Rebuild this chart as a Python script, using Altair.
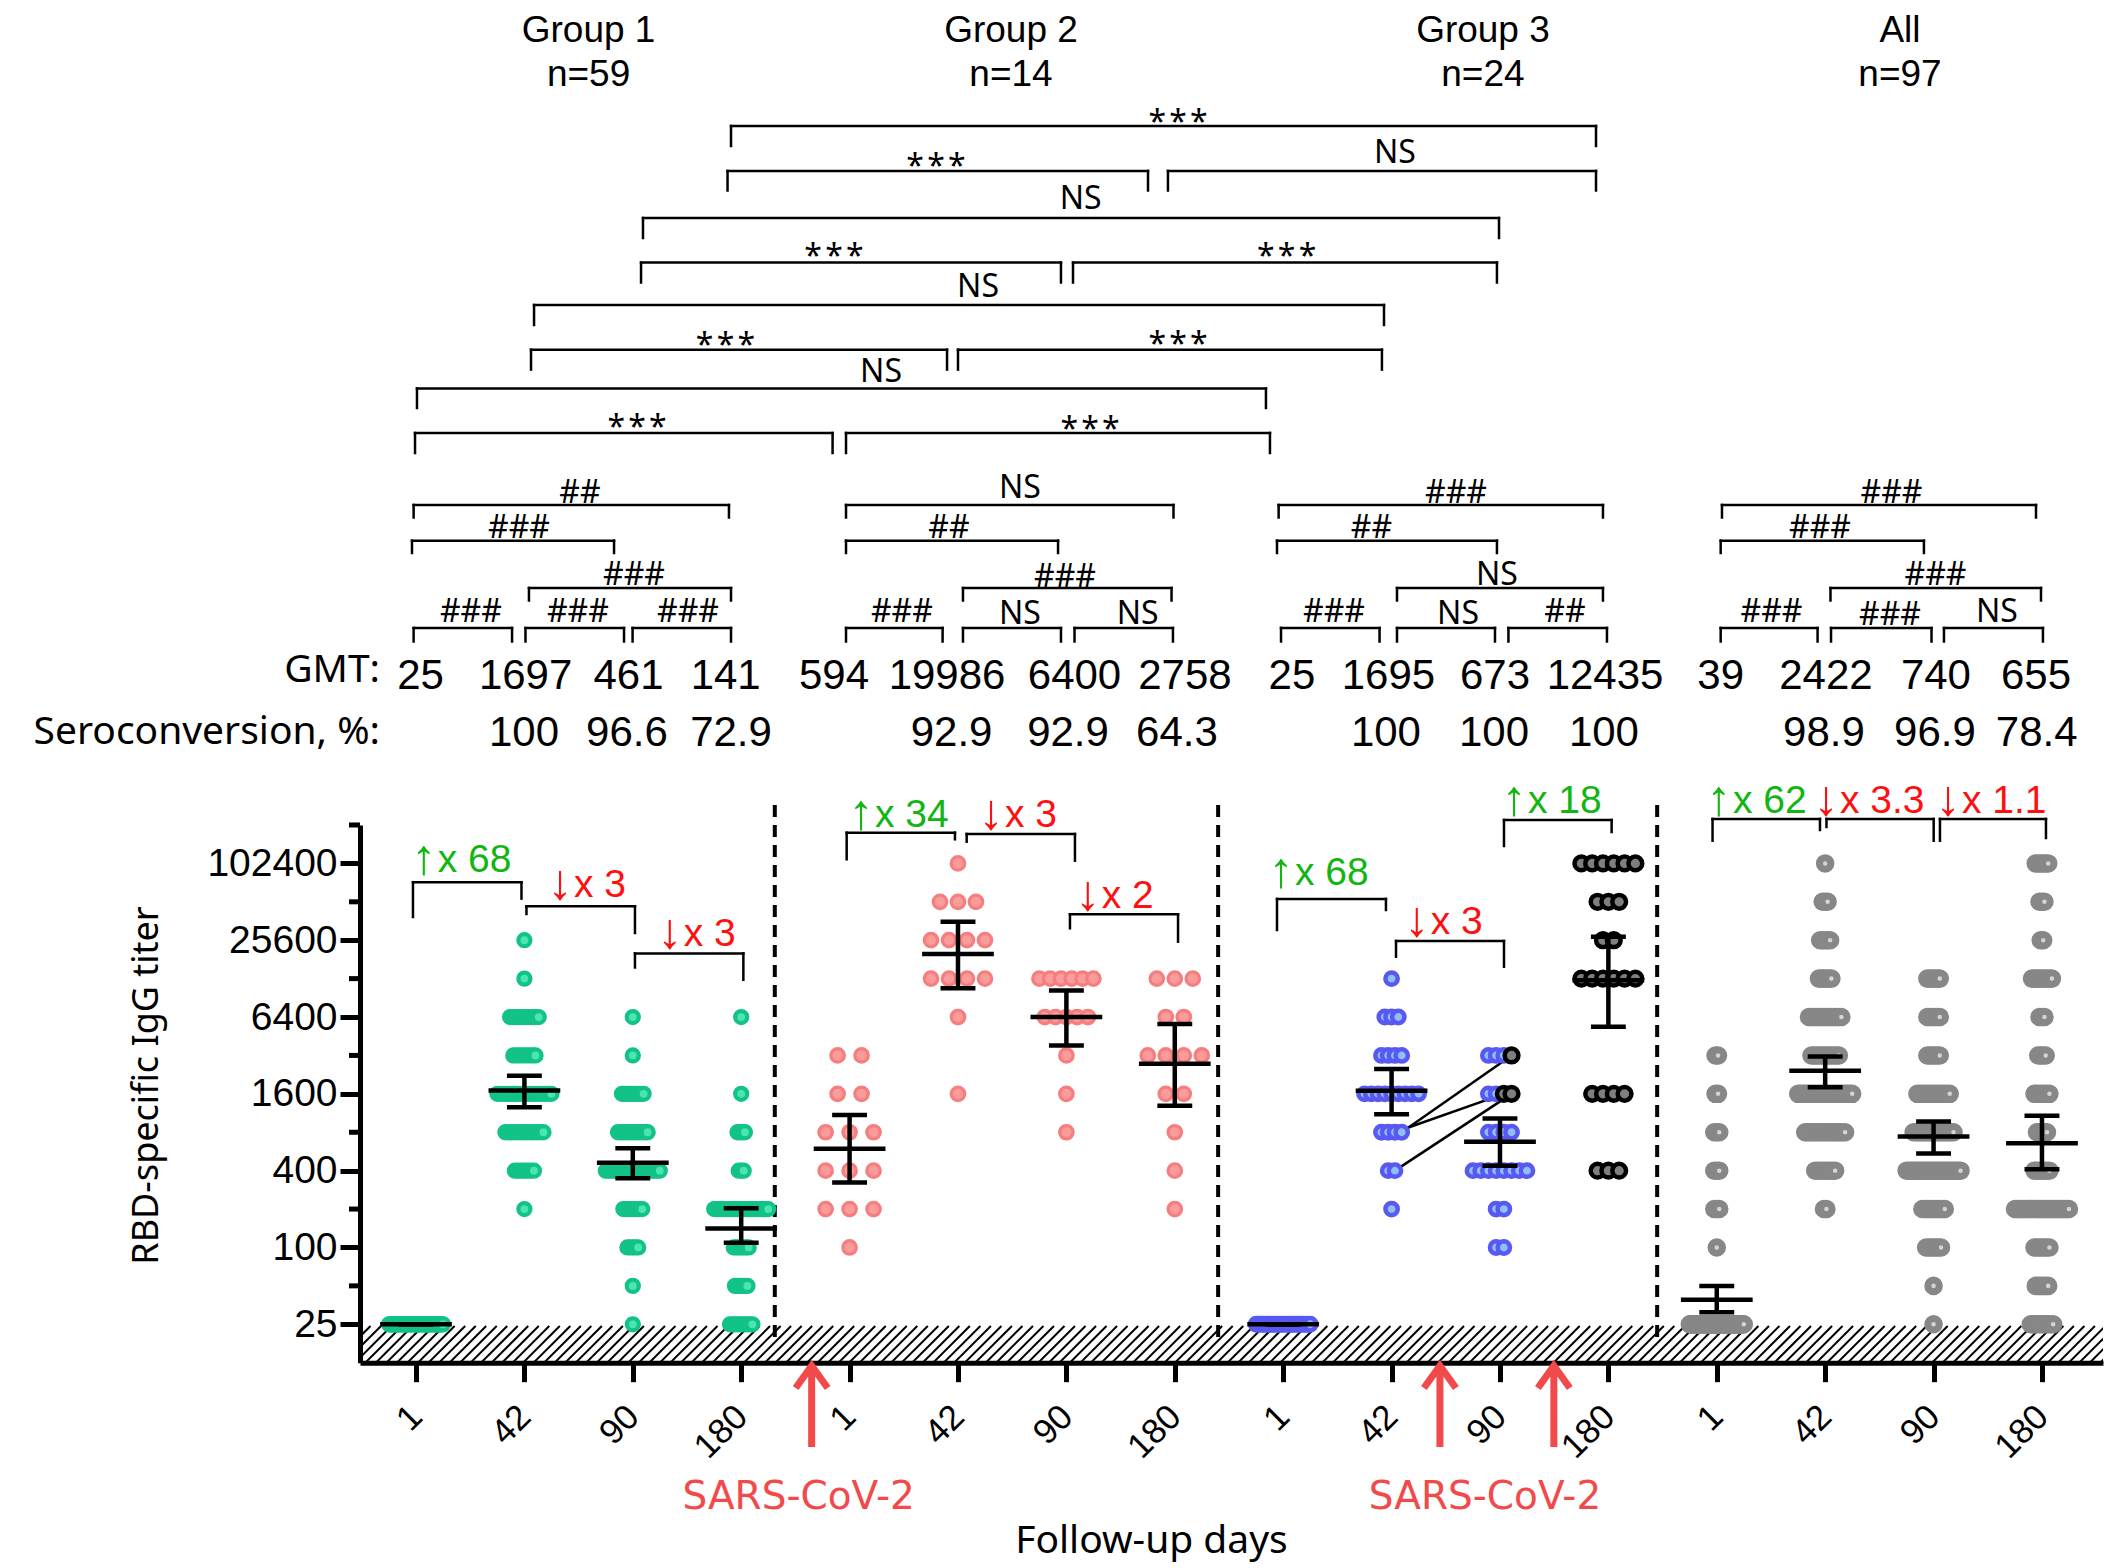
import altair as alt
import numpy as np
import pandas as pd

# ---------------- values ----------------
TITERS = [25, 50, 100, 200, 400, 800, 1600, 3200, 6400, 12800, 25600, 51200, 102400]
MINOR_TITERS = [50, 200, 800, 3200, 12800, 51200, 204800]
MAJOR_TITERS = [25, 100, 400, 1600, 6400, 25600, 102400]
DAYS = ["1", "42", "90", "180"]
GROUP_NAMES = ["Group 1", "Group 2", "Group 3", "All"]
GROUP_SIZES = ["n=59", "n=14", "n=24", "n=97"]

# subjects per titer (one entry per TITERS value), one row per follow-up day
G1_COUNTS = [
    [59, 0, 0, 0, 0, 0, 0, 0, 0, 0, 0, 0, 0],
    [0, 0, 0, 1, 7, 13, 18, 8, 10, 1, 1, 0, 0],
    [1, 1, 5, 8, 21, 12, 9, 1, 1, 0, 0, 0, 0],
    [10, 6, 7, 27, 3, 4, 1, 0, 1, 0, 0, 0, 0],
]
G2_COUNTS = [
    [0, 0, 1, 3, 3, 3, 2, 2, 0, 0, 0, 0, 0],
    [0, 0, 0, 0, 0, 0, 1, 0, 1, 4, 4, 3, 1],
    [0, 0, 0, 0, 0, 1, 1, 1, 5, 6, 0, 0, 0],
    [0, 0, 0, 1, 1, 1, 2, 4, 2, 3, 0, 0, 0],
]
G3_COUNTS = [
    [24, 0, 0, 0, 0, 0, 0, 0, 0, 0, 0, 0, 0],
    [0, 0, 0, 1, 2, 4, 9, 4, 3, 1, 0, 0, 0],
    [0, 0, 2, 2, 8, 4, 4, 4, 0, 0, 0, 0, 0],
    [0, 0, 0, 0, 3, 0, 4, 0, 0, 6, 2, 3, 6],
]
G3_DAY90_INFECTED = {1600: 2, 3200: 1}               # black dots at day 90
G3_PAIRS = [(800, 3200), (800, 1600), (400, 1600)]   # day 42 -> day 90 titers

GMT = [25, 1697, 461, 141, 594, 19986, 6400, 2758, 25, 1695, 673, 12435, 39, 2422, 740, 655]
CI_LOW = [25, 1255, 348, 109, 323, 10763, 3832, 1291, 25, 1108, 438, 5382, 31, 1800, 546, 411]
CI_HIGH = [25, 2216, 598, 203, 1093, 35712, 10325, 5651, 25, 2510, 1027, 27240, 50, 3135, 971, 1079]
SEROCONVERSION = ["", "100", "96.6", "72.9", "", "92.9", "92.9", "64.3",
                  "", "100", "100", "100", "", "98.9", "96.9", "78.4"]

SIG_BETWEEN = ["***", "***", "NS", "NS", "***", "***", "NS", "***", "***", "NS", "***", "***"]
SIG_WITHIN = ["##", "###", "###", "###", "###", "###",
              "NS", "##", "###", "###", "NS", "NS",
              "###", "##", "NS", "###", "NS", "##",
              "###", "###", "###", "###", "###", "NS"]
FOLD_CHANGES = ["↑x 68", "↓x 3", "↓x 3", "↑x 34", "↓x 3", "↓x 2",
                "↑x 68", "↓x 3", "↑x 18", "↑x 62", "↓x 3.3", "↓x 1.1"]
INFECTION_LABEL = "SARS-CoV-2"

# ---------------- layout (positions & styles) ----------------
XMIN, XMAX = -0.5166, 15.563
PLOT_W, PLOT_H = 1743, 537.7
PY_BOTTOM = 1362.7
YMIN, YMAX = 12.5, 204800
LEVEL_PX = PLOT_H / np.log2(YMAX / YMIN)

def ty(py):
    """page row of the reference -> value on the titer axis"""
    return float(YMIN * 2 ** ((PY_BOTTOM - py) / LEVEL_PX))

FONT_TEXT = "Noto Sans"
FONT_NUM = "Liberation Sans"
FONT_RED = "DejaVu Sans"
RED = "#f24a4a"
GREEN_TXT, RED_TXT = "#12b512", "#ff1010"

SPAN_MAX, STEP_MAX, STEP_MIN = 0.498, 0.221, 0.023

STYLE = {  # stroke, fill, size, strokeWidth
    "g1": ("#12c286", "#4be6ae", 145, 4.25),
    "g2": ("#f77e7e", "#fb9c9c", 180, 3.3),
    "g3": ("#5858f2", "#90bff8", 152, 4.5),
    "g3x": ("#000000", "#7f7f7f", 189, 4.5),
    "all": ("#878787", "#d4d4d4", 133, 7),
}

BETWEEN_POS = [  # k1, k2, y line, y tick end, k label, label baseline
    (2.906, 10.886, 126.0, 146.0, 7.030, 133.0),
    (2.874, 6.753, 171.0, 190.5, 4.797, 177.4),
    (6.937, 10.886, 171.0, 190.5, 9.031, 163.0),
    (2.094, 9.991, 218.0, 238.0, 6.132, 209.4),
    (2.076, 5.950, 262.6, 282.5, 3.856, 267.0),
    (6.061, 9.972, 262.6, 282.5, 8.032, 267.0),
    (1.089, 8.930, 305.0, 325.0, 5.185, 297.4),
    (1.061, 4.899, 349.7, 369.6, 2.855, 356.4),
    (5.000, 8.911, 349.7, 369.6, 7.030, 355.0),
    (0.009, 7.841, 388.5, 408.0, 4.290, 382.0),
    (-0.009, 3.843, 433.0, 453.0, 2.039, 438.4),
    (3.967, 7.878, 433.0, 453.0, 6.218, 440.4),
]
ROW_Y = {"A": (505.0, 517.5), "B": (540.7, 553.0), "C": (588.0, 600.5), "D": (628.0, 641.5)}
WITHIN_POS = [  # k1, k2, row, k label, label baseline
    (-0.022, 2.887, "A", 1.513, 503.4), (-0.037, 1.827, "B", 0.950, 538.4),
    (1.042, 2.906, "C", 2.011, 585.0), (-0.022, 0.886, "D", 0.507, 622.4),
    (1.010, 1.919, "D", 1.494, 622.4), (1.998, 2.906, "D", 2.509, 622.4),
    (3.967, 6.988, "A", 5.572, 498.4), (3.967, 5.923, "B", 4.917, 538.4),
    (5.046, 6.970, "C", 5.987, 587.4), (3.967, 4.858, "D", 4.483, 622.4),
    (5.046, 5.950, "D", 5.572, 624.0), (6.075, 6.983, "D", 6.657, 624.0),
    (7.958, 10.950, "A", 9.594, 503.4), (7.943, 9.972, "B", 8.815, 538.4),
    (9.050, 10.950, "C", 9.972, 585.0), (7.980, 8.889, "D", 8.469, 622.4),
    (9.050, 9.954, "D", 9.613, 624.0), (10.078, 10.987, "D", 10.600, 622.4),
    (12.048, 14.945, "A", 13.612, 503.4), (12.036, 13.911, "B", 12.952, 538.4),
    (13.049, 14.991, "C", 14.018, 585.0), (12.036, 12.930, "D", 12.505, 622.4),
    (13.054, 13.981, "D", 13.598, 625.4), (14.096, 15.009, "D", 14.585, 622.0),
]
FOLD_POS = [  # k1, k2, y line, left end, right end, k of text start, baseline
    (-0.028, 0.973, 882.2, 917.0, 898.6, 0.200, 872.0),
    (1.019, 2.020, 906.3, 914.0, 933.0, 1.458, 897.0),
    (2.020, 3.020, 953.4, 967.5, 979.8, 2.470, 946.5),
    (3.973, 4.972, 832.7, 859.3, 839.3, 4.234, 826.7),
    (5.080, 6.079, 834.0, 841.7, 860.7, 5.434, 826.7),
    (6.033, 7.030, 914.3, 928.3, 941.7, 6.326, 908.3),
    (7.943, 8.948, 899.0, 930.0, 910.0, 8.109, 885.0),
    (9.041, 10.037, 941.0, 956.7, 966.7, 9.361, 934.0),
    (10.037, 11.030, 820.0, 846.0, 832.0, 10.258, 813.0),
    (11.961, 12.952, 819.0, 840.7, 830.0, 12.149, 813.0),
    (13.012, 14.001, 819.0, 827.0, 840.7, 13.137, 813.0),
    (14.059, 15.037, 819.0, 840.7, 838.0, 14.262, 813.0),
]
GMT_TEXT_K = [0.042, 1.011, 1.960, 2.857, 3.856, 4.899, 6.075, 7.094,
              8.081, 8.971, 9.954, 10.969, 12.036, 13.007, 14.022, 14.945]
SERO_TEXT_K = [0, 0.996, 1.946, 2.906, 0, 4.941, 6.015, 7.020,
               0, 8.948, 9.945, 10.959, 0, 12.989, 14.013, 14.951]
GROUP_TITLE_K = [1.592, 5.489, 9.843, 13.690]
ROW_LABEL_K = -0.332
DIVIDER_K = [3.31, 7.40, 11.45]
INFECTION_K = [3.650, 9.446, 10.497]
INFECTION_TEXT_K = [3.530, 9.862]
ARROW = "M-0.39,-0.44L0,-0.98L0.39,-0.44M0,-0.98L0,1"

# ---------------- build tables ----------------
def layout_column(k, counts, series, special=None):
    maxrow = max(counts)
    step = STEP_MAX if maxrow < 2 else max(STEP_MIN, min(STEP_MAX, SPAN_MAX / (maxrow - 1)))
    out = []
    for t, n in zip(TITERS, counts):
        if n == 0:
            continue
        span = min(step * (n - 1), SPAN_MAX)
        ns = (special or {}).get(t, 0)
        for i in range(n):
            off = 0.0 if n == 1 else -span / 2 + i * span / (n - 1)
            s = "g3x" if i >= n - ns else series
            out.append({"k": k + off, "t": t, "series": s, "i": i, "n": n, "col": k, "pid": ""})
    return out

rows = []
for g, (counts, ser) in enumerate([(G1_COUNTS, "g1"), (G2_COUNTS, "g2"), (G3_COUNTS, "g3")]):
    for d in range(4):
        sname = "g3x" if (g == 2 and d == 3) else ser
        special = G3_DAY90_INFECTED if (g == 2 and d == 2) else None
        rows += layout_column(g * 4 + d, counts[d], sname, special)
ALL_COUNTS = [[a + b + c for a, b, c in zip(G1_COUNTS[d], G2_COUNTS[d], G3_COUNTS[d])] for d in range(4)]
for d in range(4):
    rows += layout_column(12 + d, ALL_COUNTS[d], "all")

# link reinfected individuals (group 3, day 42 -> day 90)
used42, used90 = {}, {}
for p, (t42, t90) in enumerate(G3_PAIRS):
    u = used42.get(t42, 0); used42[t42] = u + 1
    cands = sorted([r for r in rows if r["col"] == 9 and r["t"] == t42], key=lambda r: -r["i"])
    cands[u]["pid"] = f"p{p}"
    u = used90.get(t90, 0); used90[t90] = u + 1
    cands = sorted([r for r in rows if r["col"] == 10 and r["t"] == t90 and r["series"] == "g3x"],
                   key=lambda r: r["i"])
    cands[u]["pid"] = f"p{p}"
pts_df = pd.DataFrame(rows)

stats_df = pd.DataFrame({"k": list(range(16)), "gmt": GMT, "lo": CI_LOW, "hi": CI_HIGH})

segs = []
def bracket(k1, k2, y, yl, yr):
    segs.extend([
        {"x": k1, "x2": k2, "y": ty(y), "y2": ty(y)},
        {"x": k1, "x2": k1, "y": ty(y), "y2": ty(yl)},
        {"x": k2, "x2": k2, "y": ty(y), "y2": ty(yr)},
    ])

sig_rows = []
for lab, (k1, k2, y, ye, kl, yl) in zip(SIG_BETWEEN, BETWEEN_POS):
    bracket(k1, k2, y, ye, ye)
    sig_rows.append({"k": kl, "y": ty(yl), "text": lab.replace("***", "*\u200a*\u200a*")})
for lab, (k1, k2, r, kl, yl) in zip(SIG_WITHIN, WITHIN_POS):
    y, ye = ROW_Y[r]
    bracket(k1, k2, y, ye, ye)
    sig_rows.append({"k": kl, "y": ty(yl), "text": lab})
fold_rows, fold_arrow_rows = [], []
for lab, (k1, k2, y, yl, yr, ks, bl) in zip(FOLD_CHANGES, FOLD_POS):
    bracket(k1, k2, y, yl, yr)
    d = "up" if lab.startswith("↑") else "down"
    fold_rows.append({"k": ks, "y": ty(bl), "text": lab[1:], "dir": d})
    fold_arrow_rows.append({"k": ks - 0.012, "y": ty(bl + 2), "text": lab[0], "dir": d})
seg_df = pd.DataFrame(segs)
sig_df = pd.DataFrame(sig_rows)
fold_df = pd.DataFrame(fold_rows)
fold_arrow_df = pd.DataFrame(fold_arrow_rows)

title_df = pd.DataFrame(
    [{"k": k, "y": ty(42.0), "text": n} for k, n in zip(GROUP_TITLE_K, GROUP_NAMES)]
    + [{"k": k, "y": ty(86.0), "text": n} for k, n in zip(GROUP_TITLE_K, GROUP_SIZES)]
)
num_df = pd.DataFrame(
    [{"k": kk, "y": ty(689.0), "text": str(v)} for kk, v in zip(GMT_TEXT_K, GMT)]
    + [{"k": kk, "y": ty(746.0), "text": v} for kk, v in zip(SERO_TEXT_K, SEROCONVERSION) if v]
)
rowlab_df = pd.DataFrame([{"k": ROW_LABEL_K, "y": ty(682.0), "text": "GMT:"},
                          {"k": ROW_LABEL_K, "y": ty(744.0), "text": "Seroconversion, %:"}])
div_df = pd.DataFrame({"k": DIVIDER_K, "y": ty(805.0), "y2": ty(1345.0)})
arrow_df = pd.DataFrame({"k": INFECTION_K, "y": ty(1406.0)})
sars_df = pd.DataFrame({"k": INFECTION_TEXT_K, "y": ty(1509.0), "text": INFECTION_LABEL})

hatch_dx = 36.7 / 108.4
x0 = np.arange(XMIN - hatch_dx, XMAX + 0.01, 0.097)
hatch_df = pd.DataFrame({"x": x0, "x2": x0 + hatch_dx, "y": YMIN, "y2": ty(1326.0)})

# ---------------- scales, axes & helpers ----------------
xs = alt.Scale(domain=[XMIN, XMAX], nice=False, zero=False)
ys = alt.Scale(type="log", base=2, domain=[YMIN, YMAX], nice=False)

x_axis = alt.Axis(
    values=list(range(16)), labelExpr=f"{DAYS}[datum.value % 4]",
    labelAngle=315, labelAlign="right", labelBaseline="middle",
    labelFont=FONT_NUM, labelFontSize=35, labelColor="black", labelPadding=29,
    labelFlush=False, labelOverlap=False,
    tickSize=19, tickWidth=5, tickColor="black", domainWidth=5, domainColor="black",
    grid=False, title="Follow-up days", titleFont=FONT_TEXT, titleFontSize=39,
    titleFontWeight="normal", titleColor="black", titleX=791, titleY=190,
    titleAlign="center", titleBaseline="alphabetic",
)
y_axis = alt.Axis(
    values=MAJOR_TITERS, format="d", orient="left",
    labelFont=FONT_NUM, labelFontSize=39, labelColor="black", labelPadding=3,
    labelOverlap=False, labelFlush=False,
    tickSize=20, tickWidth=5, tickColor="black", domainWidth=5, domainColor="black",
    grid=False, title="RBD-specific IgG titer", titleFont=FONT_TEXT, titleFontSize=36,
    titleFontWeight="normal", titleColor="black", titleAngle=270, titleX=-203, titleY=260,
    titleAlign="center", titleBaseline="alphabetic",
)

def X(f):
    return alt.X(f"{f}:Q", scale=xs, axis=x_axis)
def Y(f):
    return alt.Y(f"{f}:Q", scale=ys, axis=y_axis)

# ---------------- layers ----------------
hatch = alt.Chart(hatch_df).mark_rule(color="black", strokeWidth=2, clip=True).encode(
    x=X("x"), x2="x2:Q", y=Y("y"), y2="y2:Q")
dividers = alt.Chart(div_df).mark_rule(color="black", strokeWidth=4, strokeDash=[12, 8]).encode(
    x=X("k"), y=Y("y"), y2="y2:Q")

conn = alt.Chart(pts_df).transform_filter("datum.pid != ''").mark_line(
    color="black", strokeWidth=2.5).encode(x=X("k"), y=Y("t"), detail="pid:N")

point_layers = []
for s in ["g1", "g2", "g3", "g3x", "all"]:
    stroke, fill, size, sw = STYLE[s]
    point_layers.append(
        alt.Chart(pts_df).transform_filter(alt.datum.series == s).mark_circle(
            fill=fill, stroke=stroke, strokeWidth=sw, size=size, opacity=1
        ).encode(x=X("k"), y=Y("t"))
    )

minor = alt.Chart(pd.DataFrame({"t": MINOR_TITERS})).mark_rule(color="black", strokeWidth=5).encode(
    y=Y("t"), x=alt.value(-11), x2=alt.value(0))

sb = alt.Chart(stats_df)
mean_line = sb.transform_calculate(a="datum.k - 0.331", b="datum.k + 0.331").mark_rule(
    color="black", strokeWidth=4.5).encode(x=X("a"), x2="b:Q", y=Y("gmt"))
ci_line = sb.mark_rule(color="black", strokeWidth=4.5).encode(x=X("k"), y=Y("lo"), y2="hi:Q")
cap_lo = sb.transform_calculate(a="datum.k - 0.161", b="datum.k + 0.161").mark_rule(
    color="black", strokeWidth=4.5).encode(x=X("a"), x2="b:Q", y=Y("lo"))
cap_hi = sb.transform_calculate(a="datum.k - 0.161", b="datum.k + 0.161").mark_rule(
    color="black", strokeWidth=4.5).encode(x=X("a"), x2="b:Q", y=Y("hi"))

brackets = alt.Chart(seg_df).mark_rule(color="black", strokeWidth=2.5, strokeCap="square").encode(
    x=X("x"), x2="x2:Q", y=Y("y"), y2="y2:Q")

def text_layer(df, font, size, color="black", align="center"):
    return alt.Chart(df).mark_text(font=font, fontSize=size, color=color, align=align,
                                   baseline="alphabetic").encode(
        x=X("k"), y=Y("y"), text="text:N")

fold_color = alt.Color("dir:N", scale=alt.Scale(domain=["up", "down"], range=[GREEN_TXT, RED_TXT]),
                       legend=None)
titles = text_layer(title_df, FONT_NUM, 37)
sigs = text_layer(sig_df, FONT_TEXT, 32)
nums = text_layer(num_df, FONT_NUM, 42)
rowlabs = text_layer(rowlab_df, FONT_TEXT, 39, align="right")
folds = alt.Chart(fold_df).mark_text(font=FONT_NUM, fontSize=39, baseline="alphabetic",
                                     align="left").encode(
    x=X("k"), y=Y("y"), text="text:N", color=fold_color)
fold_arrows = alt.Chart(fold_arrow_df).mark_text(font=FONT_NUM, fontSize=50, baseline="alphabetic",
                                                 align="right").encode(
    x=X("k"), y=Y("y"), text="text:N", color=fold_color)
sars = text_layer(sars_df, FONT_RED, 39, color=RED)
arrows = alt.Chart(arrow_df).mark_point(shape=ARROW, size=6724, filled=False, color=RED,
                                        strokeWidth=7, opacity=1, strokeJoin="miter").encode(
    x=X("k"), y=Y("y"))

chart = alt.layer(
    hatch, dividers, conn, *point_layers, minor, mean_line, ci_line, cap_lo, cap_hi,
    brackets, titles, sigs, nums, rowlabs, folds, fold_arrows, sars, arrows,
).properties(
    width=PLOT_W, height=PLOT_H,
    autosize=alt.AutoSizeParams(type="none"),
    padding={"left": 352, "top": 817, "right": 15, "bottom": 205},
).configure_view(strokeWidth=0)

chart.save("out.html", embed_options={"renderer": "svg", "actions": False})
